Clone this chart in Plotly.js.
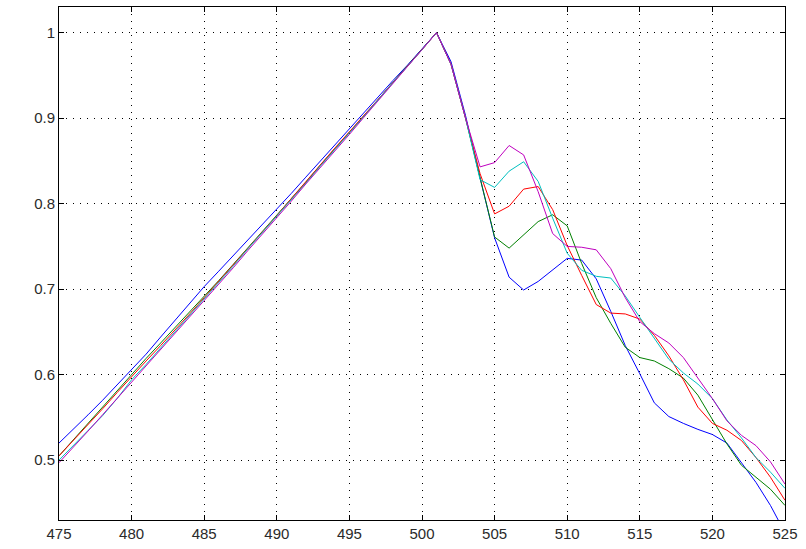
<!DOCTYPE html>
<html>
<head>
<meta charset="utf-8">
<script src="https://cdn.plot.ly/plotly-3.0.1.min.js"></script>
<style>
html,body{margin:0;padding:0;background:#fff;}
#chart{width:806px;height:549px;}
</style>
</head>
<body>
<div id="chart"></div>
<script>
// x positions (wavelength)
const xValues = [475,476,477,478,479,480,481,482,483,484,485,486,487,488,489,490,
  491,492,493,494,495,496,497,498,499,500,501,502,503,504,505,506,507,508,509,510,
  511,512,513,514,515,516,517,518,519,520,521,522,523,524,525];

const blueSeries = [0.520,0.536,0.553,0.570,0.588,0.605,0.624,0.644,0.664,0.684,0.703,0.721,0.739,0.757,0.775,0.793,
  0.812,0.831,0.850,0.869,0.888,0.906,0.925,0.944,0.962,0.981,1.000,0.966,0.903,0.830,0.760,0.714,0.699,0.709,0.722,0.736,
  0.734,0.712,0.674,0.634,0.601,0.567,0.551,0.543,0.536,0.530,0.520,0.497,0.474,0.447,0.415];

const greenSeries = [0.505,0.524,0.543,0.563,0.582,0.601,0.619,0.637,0.655,0.673,0.691,0.710,0.729,0.748,0.768,0.787,
  0.806,0.825,0.845,0.864,0.884,0.903,0.922,0.942,0.961,0.980,1.000,0.963,0.900,0.830,0.761,0.748,0.764,0.779,0.787,0.774,
  0.730,0.690,0.660,0.632,0.620,0.616,0.607,0.596,0.576,0.547,0.519,0.494,0.480,0.466,0.447];

const redSeries = [0.505,0.523,0.541,0.560,0.579,0.598,0.616,0.634,0.652,0.671,0.690,0.709,0.728,0.748,0.767,0.786,
  0.806,0.826,0.845,0.865,0.884,0.903,0.923,0.942,0.961,0.980,1.000,0.963,0.900,0.835,0.788,0.797,0.817,0.820,0.793,0.751,
  0.716,0.682,0.672,0.671,0.665,0.646,0.622,0.594,0.562,0.543,0.535,0.523,0.503,0.480,0.453];

const cyanSeries = [0.500,0.517,0.535,0.552,0.572,0.594,0.612,0.631,0.650,0.669,0.689,0.708,0.727,0.747,0.766,0.785,
  0.805,0.824,0.844,0.863,0.883,0.902,0.922,0.941,0.961,0.980,1.000,0.963,0.900,0.828,0.819,0.838,0.849,0.826,0.783,0.742,
  0.722,0.715,0.713,0.692,0.667,0.643,0.618,0.602,0.589,0.572,0.547,0.526,0.503,0.486,0.467];

const magentaSeries = [0.497,0.515,0.534,0.553,0.572,0.591,0.610,0.629,0.648,0.667,0.686,0.706,0.725,0.745,0.764,0.783,
  0.803,0.823,0.842,0.862,0.881,0.901,0.921,0.941,0.960,0.980,1.000,0.963,0.900,0.843,0.848,0.868,0.857,0.814,0.765,0.750,
  0.749,0.746,0.724,0.690,0.662,0.648,0.637,0.620,0.596,0.572,0.546,0.529,0.517,0.498,0.472];

const xTicks = [475,480,485,490,495,500,505,510,515,520,525];
const yTicks = [0.5,0.6,0.7,0.8,0.9,1];
const yTickLabels = ['0.5','0.6','0.7','0.8','0.9','1'];

const seriesList = [
  {y: blueSeries, color: '#0000ff'},
  {y: greenSeries, color: '#008000'},
  {y: redSeries, color: '#ff0000'},
  {y: cyanSeries, color: '#00bfbf'},
  {y: magentaSeries, color: '#bf00bf'}
];

const traces = seriesList.map(s => ({
  x: xValues, y: s.y, type: 'scatter', mode: 'lines',
  line: {color: s.color, width: 1}, hoverinfo: 'skip', showlegend: false
}));

const axisCommon = {
  showline: true, linecolor: '#000', linewidth: 1, mirror: 'ticks',
  ticks: 'inside', ticklen: 5, tickcolor: '#000', tickwidth: 1,
  showgrid: true, gridcolor: '#000', gridwidth: 1, griddash: '1px,6px',
  zeroline: false, tickfont: {family: 'Liberation Sans, Arial, sans-serif', size: 15, color: '#2a2a2a'}
};

const layout = {
  width: 806, height: 549,
  paper_bgcolor: '#fff', plot_bgcolor: '#fff',
  margin: {l: 59, r: 21, t: 7, b: 29},
  showlegend: false,
  xaxis: Object.assign({}, axisCommon, {
    range: [475, 525], tickmode: 'array', tickvals: xTicks, ticktext: xTicks.map(String)
  }),
  yaxis: Object.assign({}, axisCommon, {
    range: [0.43, 1.03], tickmode: 'array', tickvals: yTicks, ticktext: yTickLabels
  })
};

Plotly.newPlot('chart', traces, layout, {displayModeBar: false, staticPlot: true});
</script>
</body>
</html>
